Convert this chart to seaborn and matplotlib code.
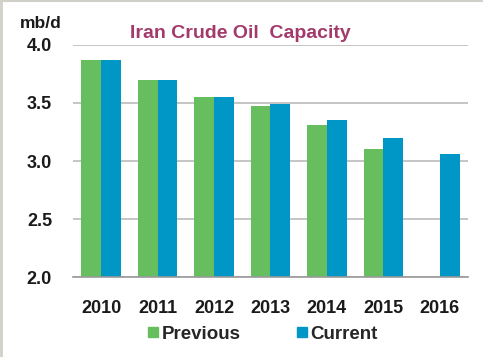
import matplotlib
matplotlib.use("Agg")
import matplotlib.pyplot as plt
import seaborn as sns
import pandas as pd
import numpy as np
from matplotlib.lines import Line2D

years = ["2010", "2011", "2012", "2013", "2014", "2015", "2016"]
previous = [3.87, 3.70, 3.55, 3.47, 3.31, 3.10, np.nan]
current = [3.87, 3.70, 3.55, 3.49, 3.35, 3.20, 3.06]
series = ["Previous", "Current"]
colors = ["#66BE5E", "#0096C6"]
yticks = [2.0, 2.5, 3.0, 3.5, 4.0]

df = pd.DataFrame({
    "year": years * 2,
    "value": previous + current,
    "series": ["Previous"] * len(years) + ["Current"] * len(years),
})

sns.set_theme(style="white")
plt.rcParams["font.family"] = ["Liberation Sans", "DejaVu Sans"]
plt.rcParams["font.weight"] = "bold"

fig = plt.figure(figsize=(4.83, 3.57), dpi=100)
ax = fig.add_axes([0.151, 0.224, 0.818, 0.650])
sns.barplot(data=df, x="year", y="value", hue="series", hue_order=series,
            palette=colors, width=0.7, saturation=1, ax=ax, legend=False,
            linewidth=0, errorbar=None)

ax.set_ylim(2.0, 4.0)
ax.set_xlim(-0.5, len(years) - 0.5)
ax.set_yticks(yticks)
ax.set_yticklabels([f"{v:.1f}" for v in yticks], fontsize=13, fontweight="bold", color="#1a1a1a")
ax.set_xticks(range(len(years)))
ax.set_xticklabels(years, fontsize=13, fontweight="bold", color="#1a1a1a")
ax.tick_params(axis="x", which="major", length=0, pad=16.5)
ax.tick_params(axis="y", length=0, pad=15)
ax.set_xticks(np.arange(-0.5, len(years), 1.0), minor=True)
ax.tick_params(axis="x", which="minor", length=5, width=1, color="#999999", direction="out")
ax.set_xlabel("")
ax.set_ylabel("")
ax.grid(axis="y", color="#BBBBBB", linewidth=1.2)
ax.set_axisbelow(True)
for s in ["left", "right", "top"]:
    ax.spines[s].set_visible(False)
ax.spines["bottom"].set_color("#999999")
ax.spines["bottom"].set_linewidth(1.2)

fig.text(0.041, 0.935, "mb/d", fontsize=12.5, fontweight="bold", color="#1a1a1a", ha="left", va="center")
fig.text(0.497, 0.905, "Iran Crude Oil  Capacity", fontsize=14, fontweight="bold",
         color="#A23B6C", ha="center", va="center")

handles = [Line2D([0], [0], marker="s", linestyle="none", markersize=7.5,
                  markerfacecolor=c, markeredgecolor=c) for c in colors]
fig.legend(handles, series, loc="center", bbox_to_anchor=(0.542, 0.064), ncol=2,
           frameon=False, prop={"size": 13.5, "weight": "bold"},
           handletextpad=0.05, columnspacing=2.9, handlelength=0.8)

# light frame on left and top
fig.add_artist(Line2D([0.002, 0.002], [0, 1], transform=fig.transFigure, color="#D0D0C8", linewidth=2))
fig.add_artist(Line2D([0, 1], [0.998, 0.998], transform=fig.transFigure, color="#D0D0C8", linewidth=1.5))

fig.savefig("out.png", dpi=100, facecolor="white")
